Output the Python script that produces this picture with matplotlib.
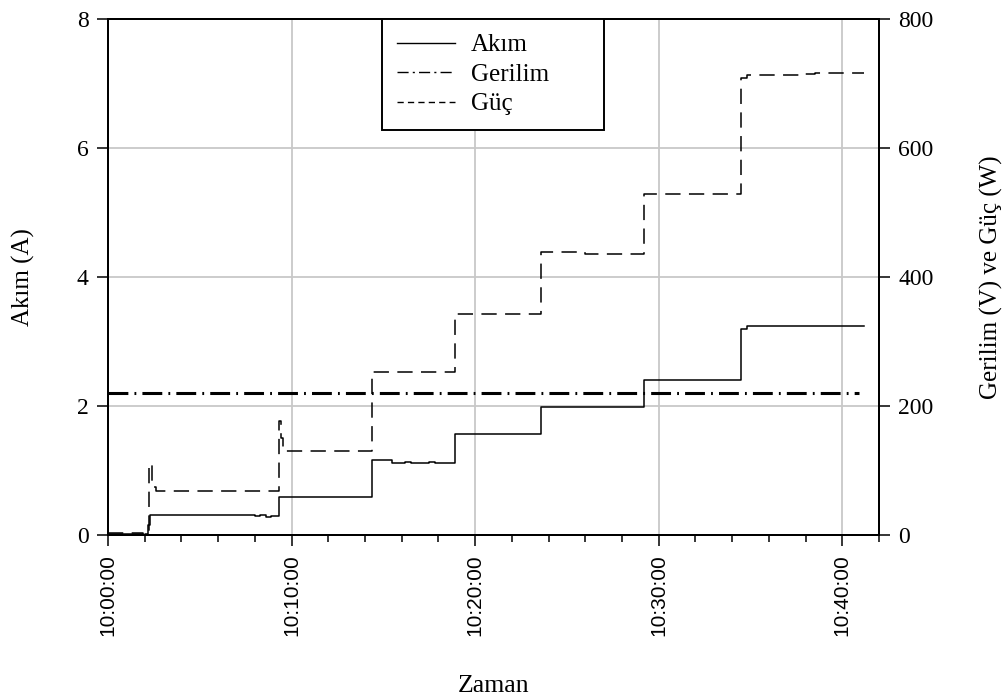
import matplotlib
matplotlib.use("Agg")
import matplotlib.pyplot as plt
from matplotlib.lines import Line2D
from matplotlib.ticker import MultipleLocator

# ---- data (time in minutes after 10:00:00) ----
akim_t = [0.0, 1.9, 2.0, 2.2, 2.3, 8.0, 8.3, 8.6, 8.9, 9.3, 14.4, 15.5, 16.2, 16.5, 17.5, 17.8,
          18.9, 23.6, 29.2, 34.5, 34.8, 41.2]
akim_v = [0.02, 0.0, 0.02, 0.15, 0.31, 0.29, 0.31, 0.28, 0.29, 0.59, 1.16, 1.12, 1.13, 1.12, 1.13, 1.12,
          1.56, 1.98, 2.41, 3.20, 3.24, 3.24]

gerilim_t = [0.0, 40.9]
gerilim_v = [220, 220]

guc_t = [0.0, 1.9, 2.0, 2.25, 2.4, 2.6, 9.3, 9.4, 9.55, 14.4, 18.9, 23.6, 26.0, 29.2, 34.5, 34.8,
         37.7, 38.5, 41.2]
guc_v = [3, 0, 3, 110, 75, 68, 176, 150, 131, 253, 343, 438, 436, 529, 709, 713,
         715, 717, 717]

xtick_pos = [0, 10, 20, 30, 40]
xtick_labels = ["10:00:00", "10:10:00", "10:20:00", "10:30:00", "10:40:00"]
left_ticks = [0, 2, 4, 6, 8]
right_ticks = [0, 200, 400, 600, 800]

serif = "Liberation Serif"
plt.rcParams["font.family"] = serif

fig = plt.figure(figsize=(10.08, 6.98), dpi=100)
ax = fig.add_axes([0.1071, 0.2335, 0.872 - 0.1071, 0.9728 - 0.2335])
ax2 = ax.twinx()

ax.set_xlim(0, 42)
ax.set_ylim(0, 8)
ax2.set_ylim(0, 800)

ax.grid(True, which="major", color="#c8c8c8", linewidth=1.3)
ax.set_axisbelow(True)

ax.plot(akim_t, akim_v, drawstyle="steps-post", color="black", linewidth=1.1)
ax2.plot(gerilim_t, gerilim_v, color="black", linewidth=2.2,
         dashes=(6.5, 2.0, 0.6, 2.0))
ax2.plot(guc_t, guc_v, drawstyle="steps-post", color="black", linewidth=1.1,
         dashes=(10, 5.5))

ax.set_xticks(xtick_pos)
ax.set_xticklabels(xtick_labels, rotation=90, family="Liberation Sans", fontsize=15)
ax.xaxis.set_minor_locator(MultipleLocator(2))
ax.set_yticks(left_ticks)
ax.set_yticklabels([str(v) for v in left_ticks], fontsize=17)
ax2.set_yticks(right_ticks)
ax2.set_yticklabels([str(v) for v in right_ticks], fontsize=17)

ax.tick_params(axis="x", which="major", direction="out", length=8, width=1.1, pad=6)
ax.tick_params(axis="x", which="minor", direction="out", length=5, width=1.1)
ax.tick_params(axis="y", direction="out", length=8, width=1.1, pad=6)
ax2.tick_params(axis="y", direction="out", length=8, width=1.1, pad=6)

for a in (ax, ax2):
    for s in a.spines.values():
        s.set_linewidth(1.4)
        s.set_color("black")

ax.set_ylabel("Akım (A)", fontsize=18, labelpad=30)
ax2.set_ylabel("Gerilim (V) ve Güç (W)", fontsize=18, labelpad=33)
ax.set_xlabel("Zaman", fontsize=18.5, labelpad=28)

handles = [
    Line2D([], [], color="black", linewidth=1.0),
    Line2D([], [], color="black", linewidth=1.0, dashes=(8, 3, 1.5, 3)),
    Line2D([], [], color="black", linewidth=1.0, dashes=(4.5, 3)),
]
leg = ax2.legend(handles, ["Akım", "Gerilim", "Güç"], loc="upper left",
                 bbox_to_anchor=(0.3555, 0.785, 0.2875, 0.215), mode="expand",
                 borderaxespad=0, fontsize=18, handlelength=2.3, handletextpad=0.65,
                 labelspacing=0.28, borderpad=0.6, fancybox=False, framealpha=1,
                 edgecolor="black")
leg.get_frame().set_linewidth(1.4)

fig.savefig("out.png", dpi=100)
